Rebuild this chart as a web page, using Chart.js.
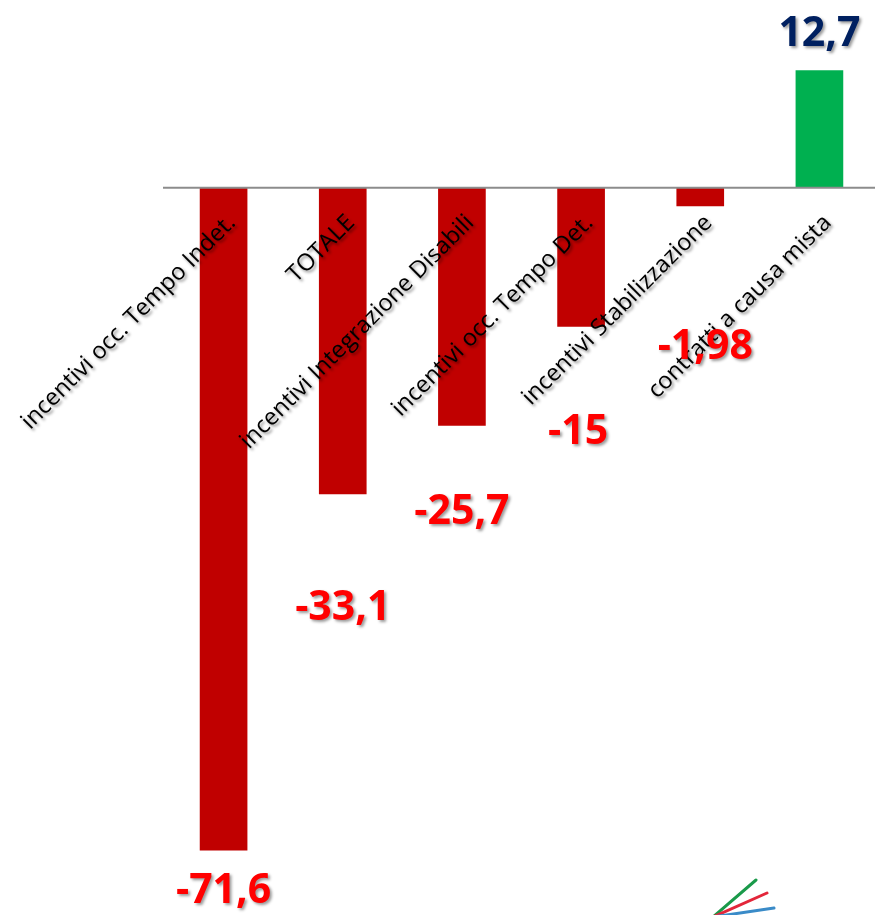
<!DOCTYPE html>
<html>
<head>
<meta charset="utf-8">
<script src="https://cdn.jsdelivr.net/npm/chart.js@4/dist/chart.umd.min.js"></script>
<style>
  html, body { margin: 0; padding: 0; background: #fff; overflow: hidden; }
  #wrap { width: 879px; height: 915px; }
</style>
</head>
<body>
<div id="wrap"><canvas id="chart"></canvas></div>
<script>
const categories = [
  'incentivi occ. Tempo Indet.',
  'TOTALE',
  'incentivi Integrazione Disabili',
  'incentivi occ. Tempo Det.',
  'incentivi Stabilizzazione',
  'contratti a causa mista'
];
const values = [-71.6, -33.1, -25.7, -15, -1.98, 12.7];
const valueLabels = ['-71,6', '-33,1', '-25,7', '-15', '-1,98', '12,7'];

// label placement, as it was hand-moved in the original (px from bar end)
const labelShift = [
  { dx: 0, dy: 41 },
  { dx: 0, dy: 114 },
  { dx: 0, dy: 87 },
  { dx: -3, dy: 106 },
  { dx: 5, dy: 141 },
  { dx: 0, dy: -36 }
];

const barColors = values.map(v => v < 0 ? '#C00000' : '#00B050');

const overlay = {
  id: 'overlay',
  afterDatasetsDraw(chart) {
    const ctx = chart.ctx;
    const xs = chart.scales.x, ys = chart.scales.y;
    const y0 = ys.getPixelForValue(0);

    // zero line
    ctx.save();
    ctx.strokeStyle = '#8c8c8c';
    ctx.lineWidth = 2;
    ctx.beginPath();
    ctx.moveTo(163, y0);
    ctx.lineTo(chart.width, y0);
    ctx.stroke();
    ctx.restore();

    // category labels, rotated
    ctx.save();
    ctx.shadowColor = 'rgba(0,0,0,0.45)';
    ctx.shadowOffsetX = 2;
    ctx.shadowOffsetY = 2;
    ctx.shadowBlur = 3;
    ctx.fillStyle = '#000';
    ctx.font = '23.5px "Open Sans"';
    ctx.textAlign = 'right';
    ctx.textBaseline = 'alphabetic';
    categories.forEach((c, i) => {
      const x = xs.getPixelForValue(i);
      ctx.save();
      ctx.translate(x + 13, y0 + 36);
      ctx.rotate(-Math.PI / 4);
      ctx.fillText(c, 0, 0);
      ctx.restore();
    });
    ctx.restore();

    // value labels
    ctx.save();
    ctx.shadowColor = 'rgba(0,0,0,0.4)';
    ctx.shadowOffsetX = 2;
    ctx.shadowOffsetY = 2;
    ctx.shadowBlur = 3;
    ctx.font = 'bold 41px "Open Sans"';
    ctx.textAlign = 'center';
    ctx.textBaseline = 'middle';
    const meta = chart.getDatasetMeta(0);
    meta.data.forEach((bar, i) => {
      ctx.fillStyle = values[i] < 0 ? '#FF0000' : '#002060';
      ctx.fillText(valueLabels[i], bar.x + labelShift[i].dx, bar.y + labelShift[i].dy);
    });
    ctx.restore();
  },
  afterDraw(chart) {
    // small logo strokes at bottom right
    const ctx = chart.ctx;
    ctx.save();
    ctx.lineWidth = 3;
    ctx.lineCap = 'round';
    [['#1a9a4a', 756, 880], ['#e3263a', 767, 893], ['#3a8bc8', 774, 908]].forEach(([c, x, y]) => {
      ctx.strokeStyle = c;
      ctx.beginPath();
      ctx.moveTo(713, 917);
      ctx.lineTo(x, y);
      ctx.stroke();
    });
    ctx.restore();
  }
};

new Chart(document.getElementById('chart'), {
  type: 'bar',
  data: {
    labels: categories,
    datasets: [{
      data: values,
      backgroundColor: barColors,
      borderWidth: 0,
      barPercentage: 0.4,
      categoryPercentage: 1
    }]
  },
  options: {
    responsive: true,
    maintainAspectRatio: false,
    animation: false,
    layout: { padding: { left: 164, right: 0, top: 49, bottom: 33 } },
    plugins: {
      legend: { display: false },
      tooltip: { enabled: false }
    },
    scales: {
      x: { display: false },
      y: { display: false, min: -75, max: 15 }
    }
  },
  plugins: [overlay]
});
</script>
</body>
</html>
